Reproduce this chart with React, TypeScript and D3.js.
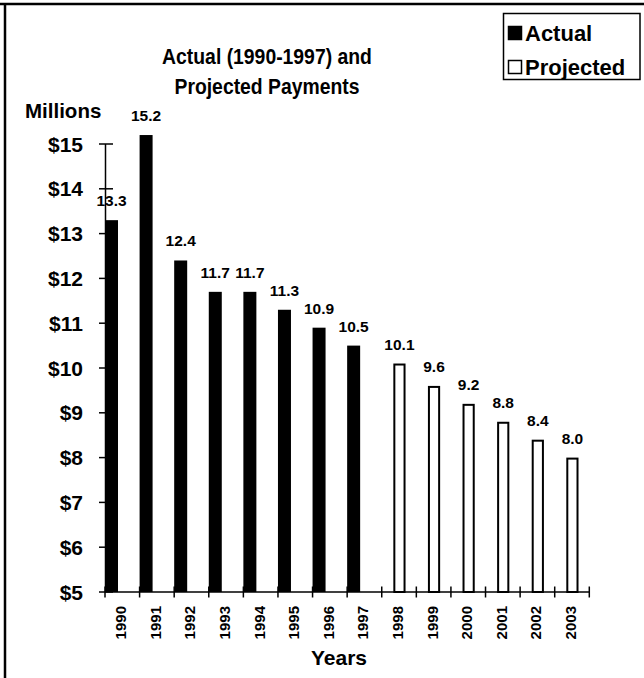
import React from "react";
import * as d3 from "d3";

const years = ["1990","1991","1992","1993","1994","1995","1996","1997","1998","1999","2000","2001","2002","2003"];
const actualYears = ["1990","1991","1992","1993","1994","1995","1996","1997"];
const actualValues = [13.3, 15.2, 12.4, 11.7, 11.7, 11.3, 10.9, 10.5];
const projectedYears = ["1998","1999","2000","2001","2002","2003"];
const projectedValues = [10.1, 9.6, 9.2, 8.8, 8.4, 8.0];
const yTicks = [5, 6, 7, 8, 9, 10, 11, 12, 13, 14, 15];
const seriesNames = ["Actual", "Projected"];
const titleLines = ["Actual (1990-1997) and", "Projected Payments"];

const W = 644, H = 678;
const FONT = "'Liberation Sans', Arial, sans-serif";

export default function App() {
  const x = d3.scaleBand<string>().domain(years).range([105, 589.3]).paddingInner(0).paddingOuter(0);
  const y = d3.scaleLinear().domain([5, 15]).range([592, 144]);
  const fmt = d3.format(".1f");
  const barW = 13;
  const projOffset = 11.6;
  const projW = 12.2;

  const actual = actualYears.map((yr, i) => ({ yr, v: actualValues[i] }));
  const projected = projectedYears.map((yr, i) => ({ yr, v: projectedValues[i] }));
  const tickPositions = [...years.map((yr) => x(yr)!), x(years[years.length - 1])! + x.bandwidth()];

  return (
    <svg width={W} height={H} style={{ position: "absolute", left: 0, top: 0, background: "#fff" }} fontFamily={FONT} fontWeight="bold">
      <rect x={0} y={0} width={W} height={H} fill="#fff" />
      {/* frame */}
      <line x1={0} x2={W} y1={4} y2={4} stroke="#000" strokeWidth={2.5} />
      <line x1={5} x2={5} y1={3} y2={H} stroke="#000" strokeWidth={2.5} />

      {/* title */}
      {titleLines.map((t, i) => (
        <text key={t} transform={`translate(267,${64 + i * 30}) scale(0.88,1)`} textAnchor="middle" fontSize={22}>{t}</text>
      ))}

      {/* legend */}
      <rect x={503.5} y={13.5} width={136.5} height={66} fill="#fff" stroke="#000" strokeWidth={1.5} />
      {seriesNames.map((s, i) => (
        <g key={s}>
          <rect x={508.5} y={26.5 + i * 34} width={13} height={13}
            fill={i === 0 ? "#000" : "#fff"} stroke="#000" strokeWidth={1.5} />
          <text x={525} y={40.5 + i * 34} fontSize={22}>{s}</text>
        </g>
      ))}

      {/* y axis label */}
      <text x={25} y={118} fontSize={20.5}>Millions</text>

      {/* value labels */}
      {actual.map((d) => (
        <text key={"la" + d.yr} x={x(d.yr)! + barW / 2} y={y(d.v) - 14} textAnchor="middle" fontSize={15.5}>{fmt(d.v)}</text>
      ))}
      {projected.map((d) => (
        <text key={"lp" + d.yr} x={x(d.yr)! + projOffset + projW / 2} y={y(d.v) - 14} textAnchor="middle" fontSize={15.5}>{fmt(d.v)}</text>
      ))}

      {/* y axis */}
      <line x1={105.5} x2={105.5} y1={y(15)} y2={y(5)} stroke="#000" strokeWidth={1.5} />
      {yTicks.map((t) => (
        <g key={"yt" + t}>
          <line x1={99} x2={113} y1={y(t)} y2={y(t)} stroke="#000" strokeWidth={1.5} />
          <text x={83} y={y(t)} dy="0.36em" textAnchor="end" fontSize={21}>{"$" + t}</text>
        </g>
      ))}

      {/* x axis */}
      <line x1={105} x2={589.3} y1={592} y2={592} stroke="#000" strokeWidth={1.5} />
      {tickPositions.map((p, i) => (
        <line key={"xt" + i} x1={p} x2={p} y1={586.5} y2={597.5} stroke="#000" strokeWidth={1.5} />
      ))}

      {/* bars */}
      {actual.map((d) => (
        <rect key={"a" + d.yr} x={x(d.yr)!} y={y(d.v)} width={barW} height={y(5) - y(d.v)} fill="#000" />
      ))}
      {projected.map((d) => (
        <rect key={"p" + d.yr} x={x(d.yr)! + projOffset + 1} y={y(d.v) + 1} width={projW - 2} height={y(5) - y(d.v) - 1}
          fill="#fff" stroke="#000" strokeWidth={2} />
      ))}

      {/* year labels */}
      {years.map((yr) => (
        <text key={"yl" + yr} transform={`translate(${x(yr)! + x.bandwidth() / 2 + 4},606) rotate(-90)`}
          textAnchor="end" fontSize={15}>{yr}</text>
      ))}

      <text x={339} y={665} textAnchor="middle" fontSize={21}>Years</text>
    </svg>
  );
}
